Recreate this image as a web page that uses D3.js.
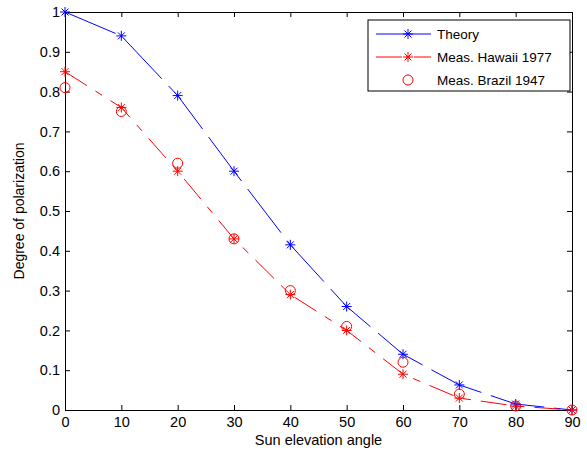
<!DOCTYPE html>
<html>
<head>
<meta charset="utf-8">
<script src="https://cdn.jsdelivr.net/npm/d3@7"></script>
<style>
  body { margin: 0; background: #fff; }
  text { font-family: "Liberation Sans", Arial, sans-serif; }
</style>
</head>
<body>
<div id="chart"></div>
<script>
const angles = [0, 10, 20, 30, 40, 50, 60, 70, 80, 90];
const theory = [1.0, 0.94, 0.79, 0.60, 0.415, 0.26, 0.14, 0.063, 0.015, 0];
const hawaii = [0.85, 0.76, 0.60, 0.43, 0.29, 0.20, 0.09, 0.03, 0.01, 0];
const brazil = [0.81, 0.75, 0.62, 0.43, 0.30, 0.21, 0.12, 0.04, 0.01, 0];
const xTicks = [0, 10, 20, 30, 40, 50, 60, 70, 80, 90];
const yTicks = [0, 0.1, 0.2, 0.3, 0.4, 0.5, 0.6, 0.7, 0.8, 0.9, 1];

const width = 587, height = 452;
const m = { left: 65, right: 15, top: 12, bottom: 42 };

const svg = d3.select("#chart").append("svg").attr("width", width).attr("height", height);

const x = d3.scaleLinear().domain([0, 90]).range([m.left, width - m.right]);
const y = d3.scaleLinear().domain([0, 1]).range([height - m.bottom, m.top]);

// axes box with inward ticks
const tl = 5;
svg.append("g").attr("transform", `translate(0,${y(0)})`)
  .call(d3.axisBottom(x).tickValues(xTicks).tickSize(-tl).tickPadding(7).tickFormat(d3.format("d")));
svg.append("g").attr("transform", `translate(0,${y(1)})`)
  .call(d3.axisTop(x).tickValues(xTicks).tickSize(-tl).tickFormat(""));
svg.append("g").attr("transform", `translate(${x(0)},0)`)
  .call(d3.axisLeft(y).tickValues(yTicks).tickSize(-tl).tickPadding(5).tickFormat(d => d === 0 || d === 1 ? d3.format("d")(d) : d3.format(".1f")(d)));
svg.append("g").attr("transform", `translate(${x(90)},0)`)
  .call(d3.axisRight(y).tickValues(yTicks).tickSize(-tl).tickFormat(""));
svg.selectAll(".domain").attr("stroke", "#000");
svg.selectAll(".tick line").attr("stroke", "#000");
svg.selectAll(".tick text").attr("font-size", 14.5).attr("fill", "#000")
  .style("font-family", "'Liberation Sans', Arial, sans-serif");

svg.append("text").attr("x", (x(0) + x(90)) / 2).attr("y", height - 7)
  .attr("text-anchor", "middle").attr("font-size", 14.5).text("Sun elevation angle");
svg.append("text").attr("transform", `translate(24,${(y(0) + y(1)) / 2}) rotate(-90)`)
  .attr("text-anchor", "middle").attr("font-size", 14).text("Degree of polarization");

const line = d3.line();

function star(g, cx, cy, color, r) {
  return g.append("path")
    .attr("d", `M${cx - r},${cy}L${cx + r},${cy}M${cx},${cy - r}L${cx},${cy + r}` +
      `M${cx - r * 0.7},${cy - r * 0.7}L${cx + r * 0.7},${cy + r * 0.7}` +
      `M${cx - r * 0.7},${cy + r * 0.7}L${cx + r * 0.7},${cy - r * 0.7}`)
    .attr("stroke", color).attr("stroke-width", 1).attr("fill", "none");
}

const plot = svg.append("g");

// theory
plot.append("path").attr("d", line(angles.map((a, i) => [x(a), y(theory[i])])))
  .attr("fill", "none").attr("stroke", "#0000ff").attr("stroke-width", 1)
  .attr("stroke-dasharray", "55,10");
angles.forEach((a, i) => star(plot, x(a), y(theory[i]), "#0000ff", 5));

// hawaii
plot.append("path").attr("d", line(angles.map((a, i) => [x(a), y(hawaii[i])])))
  .attr("fill", "none").attr("stroke", "#ff0000").attr("stroke-width", 1)
  .attr("stroke-dasharray", "26,10,8,10");
angles.forEach((a, i) => star(plot, x(a), y(hawaii[i]), "#ff0000", 5));

// brazil
plot.selectAll("circle.brazil").data(angles).enter().append("circle")
  .attr("cx", d => x(d)).attr("cy", (d, i) => y(brazil[i])).attr("r", 5)
  .attr("fill", "none").attr("stroke", "#ff0000").attr("stroke-width", 1);

// legend
const lg = svg.append("g").attr("transform", "translate(368,20)");
lg.append("rect").attr("width", 202).attr("height", 71).attr("fill", "#fff").attr("stroke", "#000");
const items = [
  { label: "Theory", color: "#0000ff", line: true, dash: null, mk: "star" },
  { label: "Meas. Hawaii 1977", color: "#ff0000", line: true, dash: "26,4,4,4", mk: "star" },
  { label: "Meas. Brazil 1947", color: "#ff0000", line: false, mk: "circle" }
];
items.forEach((it, i) => {
  const cy = 14 + i * 23;
  if (it.line) {
    lg.append("line").attr("x1", 8).attr("x2", 63).attr("y1", cy).attr("y2", cy)
      .attr("stroke", it.color).attr("stroke-dasharray", it.dash);
  }
  if (it.mk === "star") star(lg, 40, cy, it.color, 5);
  else lg.append("circle").attr("cx", 40).attr("cy", cy).attr("r", 5).attr("fill", "none").attr("stroke", it.color);
  lg.append("text").attr("x", 69).attr("y", cy + 5).attr("font-size", 13.5).text(it.label);
});
</script>
</body>
</html>
